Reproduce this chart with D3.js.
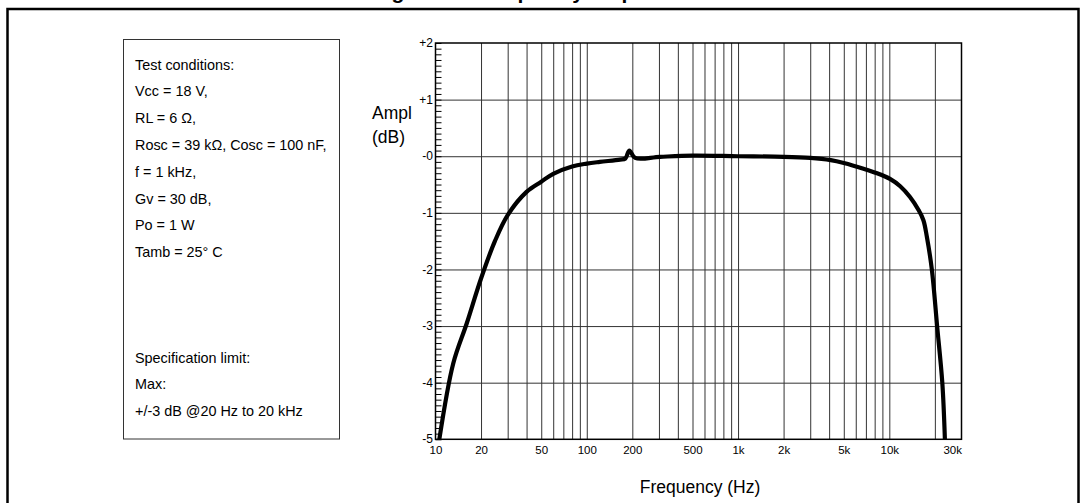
<!DOCTYPE html>
<html><head><meta charset="utf-8">
<script src="https://cdn.jsdelivr.net/npm/d3@7"></script>
<style>
html,body{margin:0;padding:0;background:#fff;}
svg{display:block;font-family:"Liberation Sans",Arial,Helvetica,sans-serif;}
</style></head>
<body><svg id="c" width="1082" height="503"></svg>
<script>
const freqHz = [10.6, 13.1, 16.1, 20, 24.7, 30, 40, 50, 60, 80, 100, 122, 166, 180, 191, 209, 305, 500, 1000, 2000, 3000, 4100, 5000, 6750, 8300, 10100, 11800, 13700, 15600, 16800, 17700, 19100, 20700, 22400, 23300];
const amplDb = [-5.0, -3.66, -2.95, -2.16, -1.5, -1.04, -0.63, -0.45, -0.31, -0.18, -0.13, -0.10, -0.06, -0.04, 0.10, -0.03, -0.01, 0.01, 0.0, -0.01, -0.03, -0.07, -0.12, -0.22, -0.30, -0.40, -0.53, -0.72, -0.95, -1.13, -1.42, -2.0, -3.0, -4.0, -5.0];
const xTickValues = [10, 20, 50, 100, 200, 500, 1000, 2000, 5000, 10000, 30000];
const xTickLabels = ["10", "20", "50", "100", "200", "500", "1k", "2k", "5k", "10k", "30k"];
const yTickValues = [2, 1, 0, -1, -2, -3, -4, -5];
const yTickLabels = ["+2", "+1", "-0", "-1", "-2", "-3", "-4", "-5"];
const conditionLines = ["Test conditions:", "Vcc = 18 V,", "RL = 6 \u03A9,", "Rosc = 39 k\u03A9, Cosc = 100 nF,", "f = 1 kHz,", "Gv = 30 dB,", "Po = 1 W", "Tamb = 25\u00B0 C"];
const specLines = ["Specification limit:", "Max:", "+/-3 dB @20 Hz to 20 kHz"];
const titleText = "Figure 16. Frequency response";

const svg = d3.select("#c");
const L = 435.5, R = 961.5, T = 43, B = 439.3;
const x = d3.scaleLog().domain([10, 30000]).range([L, R]);
const y = d3.scaleLinear().domain([-5, 2]).range([B, T]);

// title (cut off at top in the reference)
svg.append("text").attr("x", 528).attr("y", -1.5).attr("text-anchor", "middle")
  .attr("font-weight", "bold").attr("font-size", 21).attr("fill", "#000").text(titleText);

// outer frame
svg.append("rect").attr("x", 7.5).attr("y", 9).attr("width", 1071).attr("height", 530)
  .attr("fill", "none").attr("stroke", "#000").attr("stroke-width", 2.5);

// conditions box
svg.append("rect").attr("x", 123.5).attr("y", 39.5).attr("width", 216).attr("height", 399.5)
  .attr("fill", "none").attr("stroke", "#333").attr("stroke-width", 1);
const tb = svg.append("g").attr("font-size", 14.4).attr("fill", "#000");
conditionLines.forEach((t, i) => tb.append("text").attr("x", 135).attr("y", 69.5 + i * 26.8).text(t));
specLines.forEach((t, i) => tb.append("text").attr("x", 135).attr("y", 362.5 + i * 26.8).text(t));

// vertical grid
const gridFreqs = [];
[10, 100, 1000, 10000].forEach(d => { for (let k = 1; k <= 9; k++) { const f = d * k; if (f > 10 && f < 30000) gridFreqs.push(f); } });
svg.append("g").attr("transform", `translate(0,${B})`)
  .call(d3.axisBottom(x).tickValues(gridFreqs).tickSize(-(B - T)).tickFormat(""))
  .call(g => g.select(".domain").remove())
  .call(g => g.selectAll("line").attr("stroke", "#333").attr("stroke-width", 1));

// horizontal grid
svg.append("g").attr("transform", `translate(${L},0)`)
  .call(d3.axisRight(y).tickValues([1, 0, -1, -2, -3, -4]).tickSize(R - L).tickFormat(""))
  .call(g => g.select(".domain").remove())
  .call(g => g.selectAll("line").attr("stroke", "#333").attr("stroke-width", 1));

// minor ticks on y axis (inside)
const minor = d3.range(-50, 21).map(v => v / 10);
svg.append("g").attr("transform", `translate(${L},0)`)
  .call(d3.axisRight(y).tickValues(minor).tickSize(6).tickFormat(""))
  .call(g => g.select(".domain").remove())
  .call(g => g.selectAll("line").attr("stroke", "#000").attr("stroke-width", 1));

// y labels
svg.append("g").attr("transform", `translate(${L - 2.5},0)`)
  .call(d3.axisLeft(y).tickValues(yTickValues).tickSize(0).tickPadding(0)
    .tickFormat((d, i) => yTickLabels[i]))
  .call(g => g.select(".domain").remove())
  .call(g => g.selectAll("text").attr("font-size", 12).attr("fill", "#000")
    .attr("font-family", "Liberation Sans, Arial, sans-serif").attr("dy", "0.3em"));

// x labels
svg.append("g").attr("transform", `translate(0,${B})`)
  .call(d3.axisBottom(x).tickValues(xTickValues).tickSize(0).tickPadding(7)
    .tickFormat((d, i) => xTickLabels[i]))
  .call(g => g.select(".domain").remove())
  .call(g => g.selectAll("text").attr("font-size", 11.5).attr("fill", "#000")
    .attr("font-family", "Liberation Sans, Arial, sans-serif")
    .attr("text-anchor", d => d === 30000 ? "end" : "middle"));

// plot border
svg.append("rect").attr("x", L).attr("y", T).attr("width", R - L).attr("height", B - T)
  .attr("fill", "none").attr("stroke", "#000").attr("stroke-width", 1.5);

// curve
const line = d3.line().x((d, i) => x(freqHz[i])).y(d => y(d)).curve(d3.curveCatmullRom.alpha(0.5));
svg.append("path").datum(amplDb).attr("d", line).attr("fill", "none")
  .attr("stroke", "#000").attr("stroke-width", 4.2).attr("stroke-linejoin", "round");

// axis titles
svg.append("text").attr("x", 372).attr("y", 119).attr("font-size", 17.5).text("Ampl");
svg.append("text").attr("x", 372).attr("y", 143).attr("font-size", 17.5).text("(dB)");
svg.append("text").attr("x", 700).attr("y", 493).attr("font-size", 17.5).attr("text-anchor", "middle").text("Frequency (Hz)");
</script></body></html>
